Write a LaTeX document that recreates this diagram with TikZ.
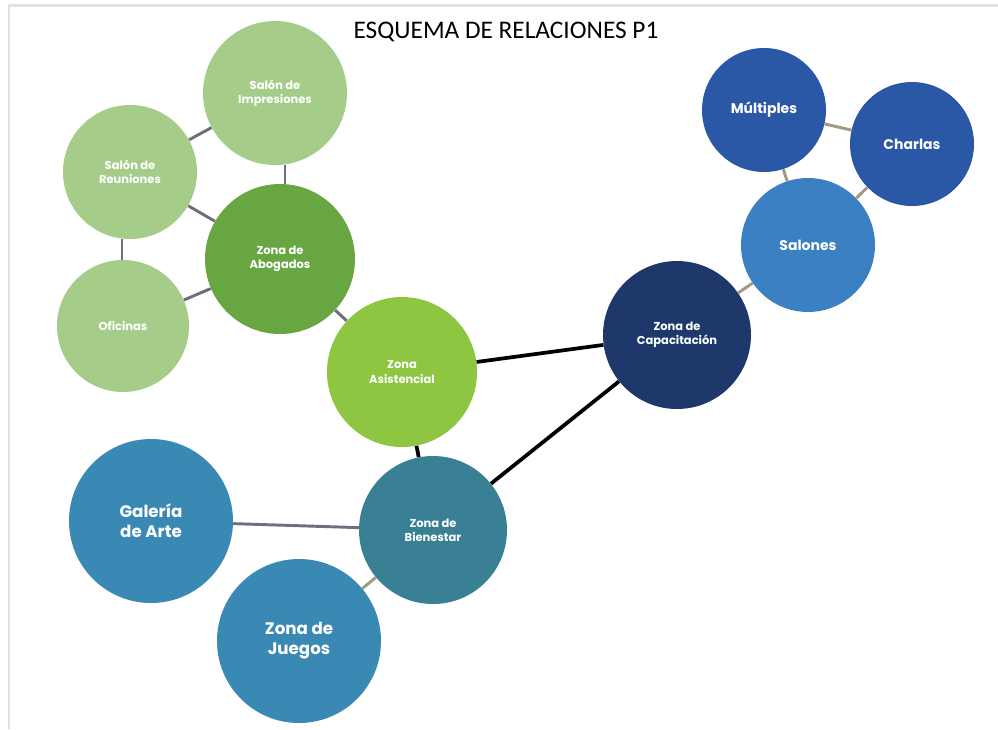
\documentclass[tikz,border=0pt]{standalone}
\usepackage{fontspec}
\setmainfont{Poppins}
\newfontfamily\titlefont{Carlito}
\definecolor{lgreen}{RGB}{166,204,138}
\definecolor{dgreen}{RGB}{104,166,66}
\definecolor{lime}{RGB}{142,198,66}
\definecolor{navy}{RGB}{30,56,108}
\definecolor{royal}{RGB}{42,88,166}
\definecolor{skyb}{RGB}{58,128,194}
\definecolor{teal}{RGB}{58,128,148}
\definecolor{steel}{RGB}{58,136,180}
\definecolor{linegray}{RGB}{112,110,126}
\definecolor{linetan}{RGB}{164,152,130}
\definecolor{framegray}{RGB}{226,226,226}
\tikzset{
  bub/.style={circle, inner sep=0pt, align=center, text=white, font=\bfseries\fontsize{8.6}{10.6}\selectfont},
  bigtext/.style={font=\bfseries\fontsize{12.5}{15}\selectfont},
  midtext/.style={font=\bfseries\fontsize{10.5}{12}\selectfont},
  rad/.style={minimum size=#1*1.5pt},
  gline/.style={draw=linegray, line width=2.2pt},
  tline/.style={draw=linetan, line width=2.2pt},
  kline/.style={draw=black, line width=2.8pt},
}
\begin{document}
\begin{tikzpicture}[x=0.75pt,y=-0.75pt]
\useasboundingbox (0,0) rectangle (998,729);
\fill[white] (0,0) rectangle (998,729);
\draw[framegray, line width=1.6pt] (9,729) -- (9,5.5) -- (998,5.5);
\node[font=\titlefont\fontsize{19}{21}\selectfont] (title) at (506,32) {ESQUEMA DE RELACIONES P1};
\coordinate (xa) at (285,0);
\coordinate (xb) at (122,0);
% green group
\node[bub, fill=lgreen, rad=72] (imp) at (275,93) {Salón de\\Impresiones};
\node[bub, fill=lgreen, rad=67] (reu) at (130,172) {Salón de\\Reuniones};
\node[bub, fill=dgreen, rad=75] (abo) at (280,259) {Zona de\\Abogados};
\node[bub, fill=lgreen, rad=66] (ofi) at (123,326) {Oficinas};
\node[bub, fill=lime, rad=75] (asi) at (402,372) {Zona\\Asistencial};
% blue group
\node[bub, fill=navy, rad=74] (cap) at (677,335) {Zona de\\Capacitación};
\node[bub, midtext, fill=skyb, rad=67] (sal) at (808,245) {Salones};
\node[bub, midtext, fill=royal, rad=62] (mul) at (764,110) {Múltiples};
\node[bub, midtext, fill=royal, rad=62] (cha) at (912,144) {Charlas};
% teal group
\node[bub, fill=teal, rad=74] (bie) at (433,530) {Zona de\\Bienestar};
\node[bub, bigtext, fill=steel, rad=82] (gal) at (151,521) {Galería\\de Arte};
\node[bub, bigtext, fill=steel, rad=82] (jue) at (299,641) {Zona de\\Juegos};
% connectors
\draw[gline] (imp) -- (reu);
\draw[gline] (imp.south -| xa) -- (abo.north -| xa);
\draw[gline] (reu) -- (abo);
\draw[gline] (reu.south -| xb) -- (ofi.north -| xb);
\draw[gline] (ofi) -- (abo);
\draw[gline] (abo) -- (asi);
\draw[kline] (asi) -- (cap);
\draw[kline] (asi) -- (bie);
\draw[kline] (bie) -- (cap);
\draw[gline] (gal) -- (bie);
\draw[tline] (jue) -- (bie);
\draw[tline] (cap) -- (sal);
\draw[tline] (mul) -- (sal);
\draw[tline] (mul) -- (cha);
\draw[tline] (cha) -- (sal);
\end{tikzpicture}
\end{document}
